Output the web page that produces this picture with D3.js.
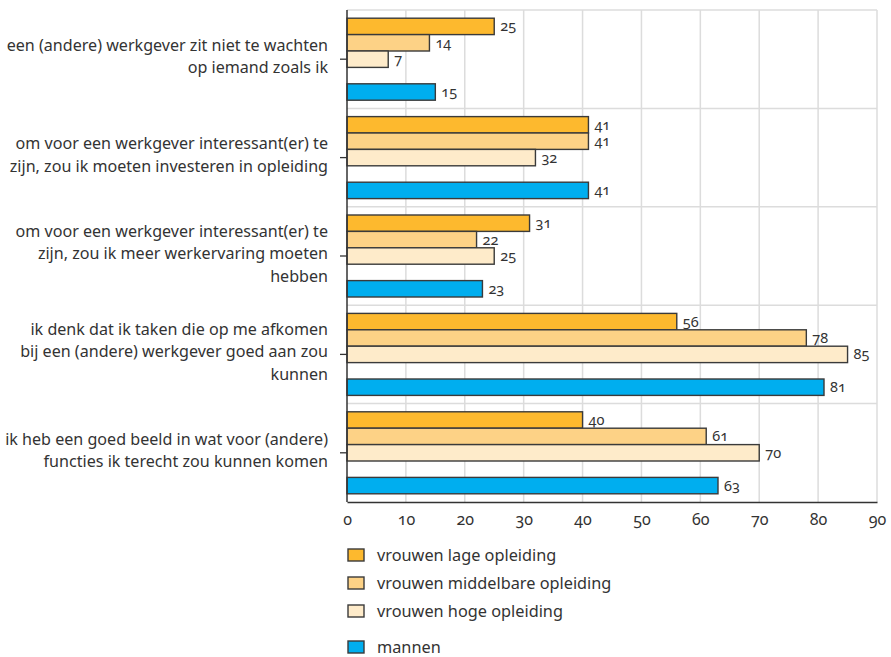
<!DOCTYPE html>
<html><head><meta charset="utf-8">
<script src="https://cdn.jsdelivr.net/npm/d3@7/dist/d3.min.js"></script>
<style>
body{margin:0;background:#fff;}
svg text{font-family:"Noto Sans","Open Sans",sans-serif;fill:#333;font-variant-numeric:oldstyle-nums;}
</style></head>
<body><svg id="c" width="891" height="657"></svg>
<script>
const categories = [
  ["een (andere) werkgever zit niet te wachten","op iemand zoals ik"],
  ["om voor een werkgever interessant(er) te","zijn, zou ik moeten investeren in opleiding"],
  ["om voor een werkgever interessant(er) te","zijn, zou ik meer werkervaring moeten","hebben"],
  ["ik denk dat ik taken die op me afkomen","bij een (andere) werkgever goed aan zou","kunnen"],
  ["ik heb een goed beeld in wat voor (andere)","functies ik terecht zou kunnen komen"]
];
const seriesNames = ["vrouwen lage opleiding","vrouwen middelbare opleiding","vrouwen hoge opleiding","mannen"];
const vrouwenLaag = [25,41,31,56,40];
const vrouwenMiddel = [14,41,22,78,61];
const vrouwenHoog = [7,32,25,85,70];
const mannen = [15,41,23,81,63];
const xTicks = [0,10,20,30,40,50,60,70,80,90];
const colors = ["#FDB92E","#FDD286","#FEEBCA","#00AEEF"];

(function(){
const svg = d3.select("#c");
const pL = 347, pR = 877, pT = 10, pB = 502;
const x = d3.scaleLinear().domain([0,90]).range([pL,pR]);
const y = d3.scaleBand().domain(d3.range(categories.length)).range([pT,pB]).padding(0);
const slots = ["s0","s1","s2","gap","s3"];
const sub = d3.scaleBand().domain(slots).range([0,y.bandwidth()]).paddingInner(0).paddingOuter(0.5);
const slotKeys = ["s0","s1","s2","s3"];
const seriesValues = [vrouwenLaag,vrouwenMiddel,vrouwenHoog,mannen];

const g = svg.append("g");
g.selectAll("line.v").data(xTicks.slice(1)).enter().append("line")
  .attr("x1",d=>x(d)).attr("x2",d=>x(d)).attr("y1",pT).attr("y2",pB)
  .attr("stroke","#dcdcdc").attr("stroke-width",1.5);
g.selectAll("line.h").data(d3.range(categories.length)).enter().append("line")
  .attr("x1",pL).attr("x2",pR).attr("y1",d=>y(d)).attr("y2",d=>y(d))
  .attr("stroke","#dcdcdc").attr("stroke-width",1.5);

categories.forEach((c,i)=>{
  seriesValues.forEach((vals,s)=>{
    const y0 = y(i)+sub(slotKeys[s]);
    g.append("rect").attr("x",x(0)).attr("y",y0)
      .attr("width",x(vals[i])-x(0)).attr("height",sub.bandwidth())
      .attr("fill",colors[s]).attr("stroke","#3a3a3a").attr("stroke-width",1.4);
    g.append("text").attr("x",x(vals[i])+6).attr("y",y0+sub.bandwidth()/2+5)
      .attr("font-size",14.5).text(vals[i]);
  });
});

const xAxis = d3.axisBottom(x).tickValues(xTicks).tickSize(0).tickPadding(12);
const ax = svg.append("g").attr("transform",`translate(0,${pB})`).call(xAxis);
ax.select(".domain").attr("stroke","#333").attr("stroke-width",1.5);
ax.selectAll("text").attr("font-size",16).attr("fill","#333");

svg.append("line").attr("x1",pL).attr("x2",pL).attr("y1",pT).attr("y2",pB)
  .attr("stroke","#333").attr("stroke-width",1.5);
const yAxis = svg.append("g");
categories.forEach((lines,i)=>{
  const cy = y(i)+y.bandwidth()/2;
  yAxis.append("line").attr("x1",pL-7).attr("x2",pL).attr("y1",cy).attr("y2",cy)
    .attr("stroke","#333").attr("stroke-width",1.3);
  const lh = 22.5;
  const t = yAxis.append("text").attr("text-anchor","end").attr("font-size",16.1);
  lines.forEach((l,k)=>{
    t.append("tspan").attr("x",328).attr("y",cy + (k-(lines.length-1)/2)*lh + 3).text(l);
  });
});

const legY = [555,583,611,647];
seriesNames.forEach((n,s)=>{
  svg.append("rect").attr("x",348).attr("y",legY[s]-6).attr("width",16).attr("height",12)
    .attr("fill",colors[s]).attr("stroke","#3a3a3a").attr("stroke-width",1.4);
  svg.append("text").attr("x",377).attr("y",legY[s]+5.5).attr("font-size",16.3).text(n);
});
})();
</script></body></html>
